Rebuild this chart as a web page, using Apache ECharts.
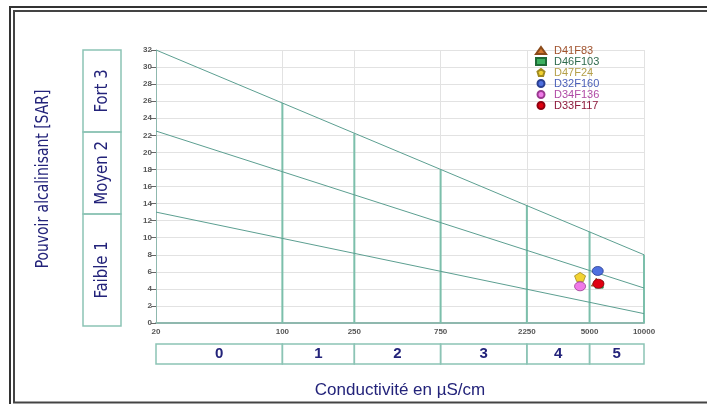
<!DOCTYPE html>
<html>
<head>
<meta charset="utf-8">
<script src="https://cdn.jsdelivr.net/npm/echarts/dist/echarts.min.js"></script>
<style>
  html, body { margin: 0; padding: 0; background: #fff; }
  #chart { width: 707px; height: 404px; }
</style>
</head>
<body>
<div id="chart"></div>
<script>
// Conductivity tick values (µS/cm) and class boundaries
const xTicks = [20, 100, 250, 750, 2250, 5000, 10000];
const conductClasses = [
  [20, 100, '0'], [100, 250, '1'], [250, 750, '2'],
  [750, 2250, '3'], [2250, 5000, '4'], [5000, 10000, '5']
];
// SAR hazard bands on the left
const sarBands = [
  [0, 13, 'Faible 1'], [13, 22.5, 'Moyen 2'], [22.5, 32, 'Fort 3']
];
// Diagonal limits (SAR at 20 and at 10000 µS/cm)
const limitLow = [[20, 13], [10000, 1.1]];
const limitMid = [[20, 22.5], [10000, 4.1]];
const limitHigh = [[20, 32], [10000, 8]];
// Vertical class boundaries: conductivity and SAR where they meet the upper limit
const boundaryX = [100, 250, 750, 2250, 5000, 10000];
const boundaryTop = [25.8, 22.2, 18.0, 13.8, 10.7, 8.0];

// Water samples [conductivity, SAR]
const sampleNames = ['D41F83', 'D46F103', 'D47F24', 'D32F160', 'D34F136', 'D33F117'];
const D41F83 = [[5450, 4.8]];
const D46F103 = [[5650, 4.5]];
const D47F24 = [[4430, 5.4]];
const D32F160 = [[5550, 6.1]];
const D34F136 = [[4430, 4.3]];
const D33F117 = [[5600, 4.6]];

const pentagon = 'path://M50,0 L100,38 L81,100 L19,100 L0,38 Z';

const navy = '#23237a';
const teal = '#5c9f91';
const tealBox = '#8cc4b5';
const narrowFont = 'Liberation Sans Narrow, DejaVu Sans Condensed, sans-serif';

const chart = echarts.init(document.getElementById('chart'));

function boundarySeries() {
  const data = [];
  boundaryX.forEach((x, i) => {
    data.push([x, 0], [x, boundaryTop[i]], [x, null]);
  });
  return data;
}

function sampleSeries(name, data, symbol, color, border, size) {
  return {
    name, type: 'scatter', xAxisIndex: 0, yAxisIndex: 0, data,
    symbol, symbolSize: size, z: 6,
    itemStyle: { color, borderColor: border, borderWidth: 0.8, opacity: 1 }
  };
}

const legendColors = {
  D41F83: '#a0522d', D46F103: '#2f6b4e', D47F24: '#b5a04a',
  D32F160: '#4a5fb8', D34F136: '#b04aa5', D33F117: '#8e1a3c'
};

chart.setOption({
  animation: false,
  backgroundColor: '#fff',
  textStyle: { fontFamily: 'Liberation Sans, Arial, sans-serif' },
  grid: [
    { left: 156, top: 50, width: 488, height: 276 },
    { left: 156, top: 344, width: 488, height: 20 },
    { left: 83, top: 50, width: 38, height: 276 }
  ],
  xAxis: [
    {
      gridIndex: 0, type: 'log', logBase: 10, min: 20, max: 10000,
      name: 'Conductivité en µS/cm', nameLocation: 'middle', nameGap: 59,
      nameTextStyle: { color: navy, fontSize: 17 },
      axisLine: { lineStyle: { color: '#8fb8ae', width: 2 } },
      axisTick: { show: false },
      axisLabel: {
        customValues: xTicks, color: '#555', fontSize: 8, fontWeight: 'bold', margin: 5,
        formatter: v => String(Math.round(v))
      },
      splitLine: { show: false }
    },
    {
      gridIndex: 1, type: 'log', logBase: 10, min: 20, max: 10000,
      show: false
    },
    { gridIndex: 2, type: 'value', min: 0, max: 1, show: false }
  ],
  yAxis: [
    {
      gridIndex: 0, type: 'value', min: 0, max: 32, interval: 2,
      axisLine: { show: true, lineStyle: { color: '#8fb8ae', width: 1 } },
      axisTick: { show: true, length: 5, lineStyle: { color: '#666' } },
      axisLabel: { color: '#555', fontSize: 8, fontWeight: 'bold', margin: 4 },
      splitLine: { show: true, lineStyle: { color: '#e2e2e2', width: 1 } }
    },
    { gridIndex: 1, type: 'value', min: 0, max: 1, show: false },
    { gridIndex: 2, type: 'value', min: 0, max: 32, show: false }
  ],
  legend: {
    orient: 'vertical', left: 535, top: 45, itemGap: 0,
    itemWidth: 10, itemHeight: 7, padding: 0,
    textStyle: { fontSize: 11, lineHeight: 9.6, padding: [0, 0, 0, 3] },
    data: sampleNames.map(n => ({ name: n, textStyle: { color: legendColors[n] } }))
  },
  series: [
    // light vertical grid at class boundaries
    {
      type: 'line', xAxisIndex: 0, yAxisIndex: 0, data: [], silent: true, z: 1,
      markLine: {
        symbol: 'none', silent: true, label: { show: false }, z: 1,
        lineStyle: { color: '#e2e2e2', width: 1, type: 'solid' },
        data: boundaryX.map(x => ({ xAxis: x }))
      }
    },
    // class boundary verticals up to the upper limit
    {
      type: 'line', xAxisIndex: 0, yAxisIndex: 0, data: boundarySeries(), z: 4,
      connectNulls: false, showSymbol: false, silent: true,
      lineStyle: { color: '#7cbfab', width: 2 }
    },
    // diagonal limits
    ...[limitLow, limitMid, limitHigh].map(d => ({
      type: 'line', xAxisIndex: 0, yAxisIndex: 0, data: d, z: 4,
      showSymbol: false, silent: true,
      lineStyle: { color: teal, width: 1 }
    })),
    // conductivity class boxes
    {
      type: 'custom', xAxisIndex: 1, yAxisIndex: 1, data: conductClasses,
      renderItem: (params, api) => {
        const p0 = api.coord([api.value(0), 1]);
        const p1 = api.coord([api.value(1), 0]);
        return {
          type: 'group',
          children: [
            {
              type: 'rect',
              shape: { x: p0[0], y: p0[1], width: p1[0] - p0[0], height: p1[1] - p0[1] },
              style: { fill: 'none', stroke: tealBox, lineWidth: 1.5 }
            },
            {
              type: 'text',
              style: {
                x: (p0[0] + p1[0]) / 2, y: (p0[1] + p1[1]) / 2,
                text: conductClasses[params.dataIndex][2],
                align: 'center', verticalAlign: 'middle',
                fill: navy, fontSize: 15, fontWeight: 'bold',
                fontFamily: 'Liberation Sans, Arial, sans-serif'
              }
            }
          ]
        };
      }
    },
    // SAR hazard bands
    {
      type: 'custom', xAxisIndex: 2, yAxisIndex: 2, data: sarBands,
      renderItem: (params, api) => {
        const p0 = api.coord([0, api.value(1)]);
        const p1 = api.coord([1, api.value(0)]);
        return {
          type: 'group',
          children: [
            {
              type: 'rect',
              shape: { x: p0[0], y: p0[1], width: p1[0] - p0[0], height: p1[1] - p0[1] },
              style: { fill: 'none', stroke: tealBox, lineWidth: 1.5 }
            },
            {
              type: 'text',
              x: (p0[0] + p1[0]) / 2, y: (p0[1] + p1[1]) / 2,
              rotation: Math.PI / 2,
              scaleX: 0.92,
              style: {
                x: 0, y: 0,
                text: sarBands[params.dataIndex][2],
                align: 'center', verticalAlign: 'middle',
                fill: navy, fontSize: 18, fontFamily: narrowFont
              }
            }
          ]
        };
      }
    },
    sampleSeries('D41F83', D41F83, 'triangle', '#d2762e', '#8a4a1a', [10, 8]),
    sampleSeries('D46F103', D46F103, 'rect', '#3cb060', '#1e6a36', [8, 7]),
    sampleSeries('D47F24', D47F24, pentagon, '#f2d232', '#a08a20', [11, 9]),
    sampleSeries('D32F160', D32F160, 'circle', '#4f70e0', '#2a3f90', [11, 9]),
    sampleSeries('D34F136', D34F136, 'circle', '#f07ae8', '#9a3a90', [11, 9]),
    sampleSeries('D33F117', D33F117, 'circle', '#e00010', '#900010', [11, 9])
  ],
  graphic: [
    // double frame
    { type: 'rect', shape: { x: 10, y: 7, width: 800, height: 500 },
      style: { fill: 'none', stroke: '#333', lineWidth: 2 }, silent: true },
    { type: 'rect', shape: { x: 14, y: 11, width: 800, height: 391.5 },
      style: { fill: 'none', stroke: '#444', lineWidth: 2 }, silent: true },
    // SAR axis title
    {
      type: 'text', x: 43, y: 179, rotation: Math.PI / 2, scaleX: 0.86,
      style: {
        text: 'Pouvoir alcalinisant [SAR]', align: 'center', verticalAlign: 'middle',
        fill: navy, fontSize: 18, fontFamily: narrowFont
      }
    }
  ]
});
</script>
</body>
</html>
